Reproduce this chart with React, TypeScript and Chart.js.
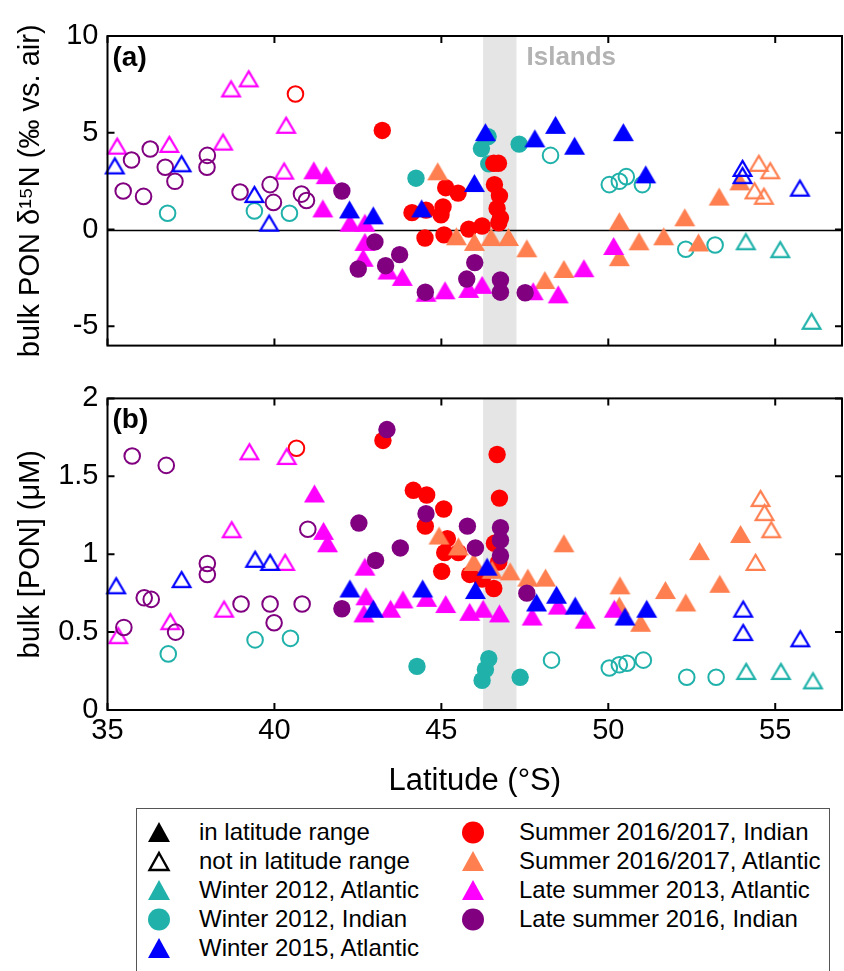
import React, { useEffect, useRef } from "react";
import { Chart, registerables } from "chart.js";
Chart.register(...registerables);

const FONT = "'Liberation Sans', Arial, Helvetica, sans-serif";

// colours of the cruises
const C_W12 = "#20B2AA";
const C_W15 = "#0000FF";
const C_S16I = "#FF0000";
const C_S16A = "#FF7F50";
const C_LS13 = "#FF00FF";
const C_LS16 = "#800080";

// axes
const LAT_MIN = 35;
const LAT_MAX = 57;
const LAT_TICKS = [35, 40, 45, 50, 55];
const D15N_MIN = -6;
const D15N_MAX = 10;
const D15N_TICKS = [-5, 0, 5, 10];
const PON_MIN = 0;
const PON_MAX = 2;
const PON_TICKS = [0, 0.5, 1, 1.5, 2];
const ISLANDS_LAT = [46.25, 47.25];

type Pt = [number, number];

// ---------- panel (a): bulk PON d15N (permil) vs latitude ----------
const W12A_OUT_D15N: Pt[] = [[54.12, -0.61], [55.15, -1.02], [56.09, -4.72]];
const W12I_IN_D15N: Pt[] = [[44.24, 2.65], [46.4, 4.8], [46.2, 4.18], [46.42, 3.39], [47.33, 4.41]];
const W12I_OUT_D15N: Pt[] = [[36.8, 0.84], [39.4, 0.96], [40.45, 0.84], [48.27, 3.83], [50.03, 2.32], [50.33, 2.49], [50.54, 2.73], [51.02, 2.32], [52.32, -1.02], [53.2, -0.8]];
const W15A_IN_D15N: Pt[] = [[42.25, 1.04], [42.96, 0.73], [44.41, 1.09], [45.99, 2.4], [46.32, 5.03], [47.8, 4.71], [48.42, 5.41], [48.99, 4.33], [50.45, 5.03], [51.12, 2.85]];
const W15A_OUT_D15N: Pt[] = [[35.22, 3.31], [37.22, 3.42], [39.4, 1.83], [39.84, 0.35], [54.02, 3.18], [54.02, 2.81], [55.74, 2.16]];
const S16I_IN_D15N: Pt[] = [[43.23, 5.12], [45.13, 2.16], [45.5, 1.88], [44.12, 0.87], [44.54, 1.0], [44.99, 0.76], [45.05, 1.17], [44.51, -0.44], [45.08, -0.28], [45.82, 0.02], [46.22, 0.18], [46.57, 3.42], [46.71, 3.42], [46.59, 2.32], [46.74, 1.74], [46.67, 1.09], [46.77, 0.59], [46.72, 0.35]];
const S16I_OUT_D15N: Pt[] = [[40.63, 7.0]];
const S16A_IN_D15N: Pt[] = [[44.89, 3.01], [45.45, -0.35], [45.99, -0.64], [46.49, -0.39], [47.01, -0.39], [47.56, -0.97], [48.1, -2.61], [48.67, -2.04], [50.33, 0.43], [50.33, -1.43], [50.92, -0.61], [51.66, -0.35], [52.29, 0.63], [52.7, -0.67], [53.32, 1.7], [53.94, 2.49]];
const S16A_OUT_D15N: Pt[] = [[54.51, 3.44], [54.85, 3.06], [54.38, 2.02], [54.66, 1.74]];
const LS13_IN_D15N: Pt[] = [[41.18, 3.06], [41.55, 2.81], [41.45, 1.09], [42.26, 0.35], [42.71, 0.35], [42.71, -0.64], [42.66, -1.46], [43.4, -2.12], [43.83, -2.45], [44.54, -3.27], [45.11, -3.14], [45.82, -3.07], [46.22, -2.86], [47.75, -3.19], [48.5, -3.35], [49.27, -2.0], [50.16, -0.85]];
const LS13_OUT_D15N: Pt[] = [[35.29, 4.33], [36.85, 4.42], [38.7, 7.29], [39.23, 7.81], [38.46, 4.54], [40.35, 5.41], [40.29, 3.04]];
const LS16_IN_D15N: Pt[] = [[42.02, 1.99], [43.01, -0.64], [42.51, -2.04], [43.33, -1.87], [43.75, -1.3], [44.52, -3.24], [46.0, -1.71], [45.76, -2.56], [46.77, -2.61], [46.77, -3.24], [47.51, -3.27]];
const LS16_OUT_D15N: Pt[] = [[35.72, 3.59], [36.28, 4.16], [36.73, 3.22], [37.02, 2.49], [35.47, 1.99], [36.08, 1.71], [37.99, 3.83], [37.98, 3.22], [38.97, 1.94], [39.87, 2.32], [39.97, 1.4], [40.81, 1.83], [40.96, 1.5]];

// ---------- panel (b): bulk [PON] (uM) vs latitude ----------
const W12A_OUT_PON: Pt[] = [[54.13, 0.25], [55.17, 0.25], [56.13, 0.19]];
const W12I_IN_PON: Pt[] = [[44.27, 0.28], [46.42, 0.33], [46.32, 0.26], [46.22, 0.19], [47.36, 0.21]];
const W12I_OUT_PON: Pt[] = [[36.82, 0.36], [39.42, 0.45], [40.48, 0.46], [48.3, 0.32], [50.03, 0.27], [50.33, 0.29], [50.56, 0.3], [51.05, 0.32], [52.35, 0.21], [53.23, 0.21]];
const W15A_IN_PON: Pt[] = [[42.26, 0.78], [42.96, 0.65], [44.44, 0.78], [46.02, 0.77], [46.37, 0.92], [47.85, 0.69], [48.45, 0.74], [49.01, 0.67], [50.5, 0.6], [51.15, 0.65]];
const W15A_OUT_PON: Pt[] = [[35.26, 0.8], [37.22, 0.84], [39.42, 0.97], [39.87, 0.95], [54.04, 0.65], [54.04, 0.5], [55.75, 0.46]];
const S16I_IN_PON: Pt[] = [[43.25, 1.73], [46.67, 1.64], [46.74, 1.36], [44.16, 1.41], [44.56, 1.38], [45.07, 1.29], [44.52, 1.18], [45.18, 1.1], [45.1, 1.01], [45.51, 1.01], [45.01, 0.89], [45.85, 0.87], [46.59, 1.07], [46.57, 0.78], [46.22, 0.84], [46.72, 0.95]];
const S16I_OUT_PON: Pt[] = [[40.66, 1.68]];
const S16A_IN_PON: Pt[] = [[44.93, 1.12], [45.51, 1.05], [45.97, 0.95], [46.52, 0.9], [47.06, 0.89], [47.59, 0.85], [48.12, 0.85], [48.67, 1.07], [50.35, 0.8], [50.33, 0.67], [50.97, 0.56], [51.71, 0.77], [52.32, 0.69], [52.73, 1.02], [53.34, 0.81], [53.96, 1.13]];
const S16A_OUT_PON: Pt[] = [[54.56, 1.36], [54.68, 1.27], [54.88, 1.16], [54.41, 0.95]];
const LS13_IN_PON: Pt[] = [[41.2, 1.39], [41.47, 1.15], [41.59, 1.07], [42.71, 0.92], [42.74, 0.73], [42.68, 0.62], [43.48, 0.65], [43.85, 0.71], [44.56, 0.72], [45.13, 0.68], [45.85, 0.63], [46.25, 0.65], [46.74, 0.62], [47.72, 0.6], [48.5, 0.67], [49.31, 0.58], [50.18, 0.65]];
const LS13_OUT_PON: Pt[] = [[39.25, 1.66], [40.37, 1.63], [38.72, 1.16], [40.32, 0.95], [38.49, 0.65], [36.88, 0.57], [35.32, 0.48]];
const LS16_IN_PON: Pt[] = [[43.37, 1.8], [42.53, 1.2], [43.77, 1.04], [43.03, 0.96], [42.02, 0.65], [44.54, 1.26], [45.78, 1.18], [46.02, 1.04], [46.77, 1.17], [46.77, 1.09], [46.77, 0.99], [47.56, 0.75]];
const LS16_OUT_PON: Pt[] = [[35.74, 1.63], [36.76, 1.57], [36.1, 0.72], [36.31, 0.71], [35.49, 0.53], [37.04, 0.5], [37.99, 0.94], [37.99, 0.87], [39.0, 0.68], [39.87, 0.68], [39.99, 0.56], [40.83, 0.68], [41.0, 1.16]];

type Shape = "tri" | "circ";
interface Series {
  label: string;
  color: string;
  shape: Shape;
  order: number;
  inA: Pt[];
  outA: Pt[];
  inB: Pt[];
  outB: Pt[];
}

// order: lower = drawn on top
const SERIES: Series[] = [
  { label: "Winter 2015, Atlantic", color: C_W15, shape: "tri", order: 0, inA: W15A_IN_D15N, outA: W15A_OUT_D15N, inB: W15A_IN_PON, outB: W15A_OUT_PON },
  { label: "Late summer 2016, Indian", color: C_LS16, shape: "circ", order: 1, inA: LS16_IN_D15N, outA: LS16_OUT_D15N, inB: LS16_IN_PON, outB: LS16_OUT_PON },
  { label: "Late summer 2013, Atlantic", color: C_LS13, shape: "tri", order: 2, inA: LS13_IN_D15N, outA: LS13_OUT_D15N, inB: LS13_IN_PON, outB: LS13_OUT_PON },
  { label: "Summer 2016/2017, Atlantic", color: C_S16A, shape: "tri", order: 3, inA: S16A_IN_D15N, outA: S16A_OUT_D15N, inB: S16A_IN_PON, outB: S16A_OUT_PON },
  { label: "Summer 2016/2017, Indian", color: C_S16I, shape: "circ", order: 4, inA: S16I_IN_D15N, outA: S16I_OUT_D15N, inB: S16I_IN_PON, outB: S16I_OUT_PON },
  { label: "Winter 2012, Indian", color: C_W12, shape: "circ", order: 5, inA: W12I_IN_D15N, outA: W12I_OUT_D15N, inB: W12I_IN_PON, outB: W12I_OUT_PON },
  { label: "Winter 2012, Atlantic", color: C_W12, shape: "tri", order: 6, inA: [], outA: W12A_OUT_D15N, inB: [], outB: W12A_OUT_PON },
];

const LEGEND_LEFT: { label: string; color: string; shape: Shape; filled: boolean }[] = [
  { label: "in latitude range", color: "#000000", shape: "tri", filled: true },
  { label: "not in latitude range", color: "#000000", shape: "tri", filled: false },
  { label: "Winter 2012, Atlantic", color: C_W12, shape: "tri", filled: true },
  { label: "Winter 2012, Indian", color: C_W12, shape: "circ", filled: true },
  { label: "Winter 2015, Atlantic", color: C_W15, shape: "tri", filled: true },
];
const LEGEND_RIGHT: { label: string; color: string; shape: Shape; filled: boolean }[] = [
  { label: "Summer 2016/2017, Indian", color: C_S16I, shape: "circ", filled: true },
  { label: "Summer 2016/2017, Atlantic", color: C_S16A, shape: "tri", filled: true },
  { label: "Late summer 2013, Atlantic", color: C_LS13, shape: "tri", filled: true },
  { label: "Late summer 2016, Indian", color: C_LS16, shape: "circ", filled: true },
];

function triImg(color: string, filled: boolean): HTMLCanvasElement {
  const w = 21;
  const h = 18;
  const pad = 2;
  const c = document.createElement("canvas");
  c.width = w + pad * 2;
  c.height = h + pad * 2;
  const ctx = c.getContext("2d")!;
  ctx.beginPath();
  if (filled) {
    ctx.moveTo(pad + w / 2, pad);
    ctx.lineTo(pad + w, pad + h);
    ctx.lineTo(pad, pad + h);
    ctx.closePath();
    ctx.fillStyle = color;
    ctx.fill();
  } else {
    const i = 1.2;
    ctx.moveTo(pad + w / 2, pad + i * 1.6);
    ctx.lineTo(pad + w - i * 1.4, pad + h - i);
    ctx.lineTo(pad + i * 1.4, pad + h - i);
    ctx.closePath();
    ctx.strokeStyle = color;
    ctx.lineWidth = 2.2;
    ctx.lineJoin = "miter";
    ctx.stroke();
  }
  return c;
}

function makeDataset(s: Series, pts: Pt[], filled: boolean) {
  const isTri = s.shape === "tri";
  return {
    label: s.label + (filled ? "" : " (not in range)"),
    data: pts.map(([x, y]) => ({ x, y })),
    order: s.order * 2 + (filled ? 0 : 1),
    showLine: false,
    clip: false as const,
    pointStyle: isTri ? triImg(s.color, filled) : "circle",
    pointRadius: isTri ? 10 : filled ? 8.7 : 7.8,
    pointHoverRadius: isTri ? 10 : filled ? 8.7 : 7.8,
    pointBorderWidth: isTri || filled ? 0 : 2,
    pointHoverBorderWidth: isTri || filled ? 0 : 2,
    pointBackgroundColor: filled ? s.color : "rgba(0,0,0,0)",
    pointBorderColor: s.color,
  };
}

const framePlugin = {
  id: "frame",
  beforeDatasetsDraw(chart: any, _args: any, opts: any) {
    const { ctx, chartArea: a, scales } = chart;
    const x = scales.x;
    const y = scales.y;
    ctx.save();
    const x0 = x.getPixelForValue(ISLANDS_LAT[0]);
    const x1 = x.getPixelForValue(ISLANDS_LAT[1]);
    ctx.fillStyle = "#E5E5E5";
    ctx.fillRect(x0, a.top, x1 - x0, a.bottom - a.top);
    if (opts.zeroLine) {
      const y0 = Math.round(y.getPixelForValue(0)) + 0.5;
      ctx.strokeStyle = "#000";
      ctx.lineWidth = 1.5;
      ctx.beginPath();
      ctx.moveTo(a.left, y0);
      ctx.lineTo(a.right, y0);
      ctx.stroke();
    }
    if (opts.islands) {
      ctx.fillStyle = "#B3B3B3";
      ctx.font = "bold 26px " + FONT;
      ctx.textBaseline = "middle";
      ctx.textAlign = "left";
      ctx.fillText("Islands", x1 + 10, a.top + 22);
    }
    ctx.restore();
  },
  afterDatasetsDraw(chart: any, _args: any, opts: any) {
    const { ctx, chartArea: a, scales } = chart;
    const x = scales.x;
    const y = scales.y;
    ctx.save();
    ctx.strokeStyle = "#000";
    ctx.lineWidth = 2;
    ctx.strokeRect(a.left, a.top, a.right - a.left, a.bottom - a.top);
    const tl = 7;
    ctx.beginPath();
    for (const v of LAT_TICKS) {
      const px = x.getPixelForValue(v);
      ctx.moveTo(px, a.bottom);
      ctx.lineTo(px, a.bottom - tl);
      ctx.moveTo(px, a.top);
      ctx.lineTo(px, a.top + tl);
    }
    for (const v of opts.yTicks as number[]) {
      const py = y.getPixelForValue(v);
      ctx.moveTo(a.left, py);
      ctx.lineTo(a.left + tl, py);
      ctx.moveTo(a.right, py);
      ctx.lineTo(a.right - tl, py);
    }
    ctx.stroke();
    ctx.fillStyle = "#000";
    ctx.font = "bold 28px " + FONT;
    ctx.textBaseline = "middle";
    ctx.textAlign = "left";
    ctx.fillText(opts.panel, a.left + 5, a.top + 22);
    ctx.restore();
  },
};

function buildConfig(panel: "a" | "b") {
  const isA = panel === "a";
  const datasets: any[] = [];
  for (const s of SERIES) {
    const inPts = isA ? s.inA : s.inB;
    const outPts = isA ? s.outA : s.outB;
    if (inPts.length) datasets.push(makeDataset(s, inPts, true));
    if (outPts.length) datasets.push(makeDataset(s, outPts, false));
  }
  const yTicks = isA ? D15N_TICKS : PON_TICKS;
  return {
    type: "scatter" as const,
    data: { datasets },
    plugins: [framePlugin],
    options: {
      animation: false as const,
      responsive: false,
      devicePixelRatio: 1,
      events: [],
      layout: { padding: isA ? { top: 36, bottom: 12, left: 0, right: 1 } : { top: 15, bottom: 0, left: 0, right: 1 } },
      plugins: {
        legend: { display: false },
        tooltip: { enabled: false },
        frame: { zeroLine: isA, islands: isA, yTicks, panel: isA ? "(a)" : "(b)" },
      },
      scales: {
        x: {
          type: "linear" as const,
          min: LAT_MIN,
          max: LAT_MAX,
          display: !isA,
          afterBuildTicks: (sc: any) => {
            sc.ticks = LAT_TICKS.map((v) => ({ value: v }));
          },
          afterFit: (sc: any) => {
            if (!isA) sc.height = 90;
          },
          grid: { display: false, drawTicks: false },
          border: { display: false },
          ticks: {
            color: "#000",
            font: { family: FONT, size: 29 },
            padding: 4,
            maxRotation: 0,
            autoSkip: false,
            callback: (v: any) => String(v),
          },
          title: {
            display: true,
            text: "Latitude (°S)",
            color: "#000",
            font: { family: FONT, size: 31 },
            padding: { top: 15, bottom: 0 },
          },
        },
        y: {
          type: "linear" as const,
          min: isA ? D15N_MIN : PON_MIN,
          max: isA ? D15N_MAX : PON_MAX,
          afterBuildTicks: (sc: any) => {
            sc.ticks = yTicks.map((v) => ({ value: v }));
          },
          afterFit: (sc: any) => {
            sc.width = 107.5;
          },
          grid: { display: false, drawTicks: false },
          border: { display: false },
          ticks: {
            color: "#000",
            font: { family: FONT, size: 29 },
            padding: 9,
            autoSkip: false,
            callback: (v: any) => String(v),
          },
          title: {
            display: true,
            text: isA ? "bulk PON δ¹⁵N (‰ vs. air)" : "bulk [PON] (μM)",
            color: "#000",
            font: { family: FONT, size: 29 },
            padding: { top: 14, bottom: 0 },
          },
        },
      },
    },
  };
}

function LegendMarker({ color, shape, filled }: { color: string; shape: Shape; filled: boolean }) {
  return (
    <svg width={26} height={24} style={{ position: "absolute", left: 0, top: 0 }}>
      {shape === "tri" ? (
        filled ? (
          <polygon points="13,2 24,22 2,22" fill={color} />
        ) : (
          <polygon points="13,4 22.5,21 3.5,21" fill="none" stroke={color} strokeWidth={2.4} />
        )
      ) : (
        <circle cx={13} cy={12.5} r={11} fill={color} />
      )}
    </svg>
  );
}

function LegendColumn({ items, left, textLeft }: { items: typeof LEGEND_LEFT; left: number; textLeft: number }) {
  return (
    <>
      {items.map((it, i) => (
        <div key={it.label} style={{ position: "absolute", left: 0, top: 11 + i * 29, height: 24, width: 690 }}>
          <div style={{ position: "absolute", left: left, top: 0, width: 26, height: 24 }}>
            <LegendMarker color={it.color} shape={it.shape} filled={it.filled} />
          </div>
          <div
            style={{
              position: "absolute",
              left: textLeft,
              top: -2,
              fontFamily: FONT,
              fontSize: 24,
              lineHeight: "28px",
              color: "#000",
              whiteSpace: "nowrap",
            }}
          >
            {it.label}
          </div>
        </div>
      ))}
    </>
  );
}

export default function App() {
  const refA = useRef<HTMLCanvasElement>(null);
  const refB = useRef<HTMLCanvasElement>(null);
  useEffect(() => {
    const chartA = new Chart(refA.current!, buildConfig("a") as any);
    const chartB = new Chart(refB.current!, buildConfig("b") as any);
    return () => {
      chartA.destroy();
      chartB.destroy();
    };
  }, []);
  return (
    <div style={{ position: "absolute", left: 0, top: 0, width: 844, height: 971, overflow: "hidden", background: "#fff" }}>
      <canvas ref={refA} width={852} height={372} style={{ position: "absolute", left: 0, top: 0, width: 852, height: 372 }} />
      <canvas ref={refB} width={852} height={428} style={{ position: "absolute", left: 0, top: 372, width: 852, height: 428 }} />
      <div
        style={{
          position: "absolute",
          left: 136,
          top: 808,
          width: 694,
          height: 200,
          border: "1.5px solid #555",
          boxSizing: "border-box",
        }}
      >
        <LegendColumn items={LEGEND_LEFT} left={9} textLeft={62} />
        <LegendColumn items={LEGEND_RIGHT} left={323} textLeft={382} />
      </div>
    </div>
  );
}
